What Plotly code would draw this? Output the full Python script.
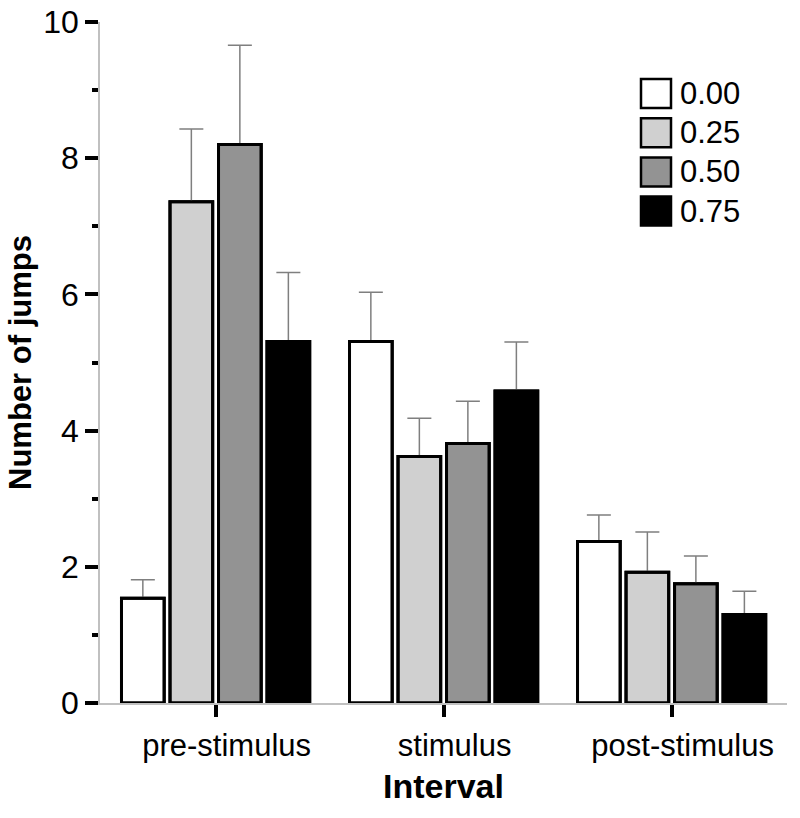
import plotly.graph_objects as go

# ---- data ----
intervals = ["pre-stimulus", "stimulus", "post-stimulus"]
levels = ["0.00", "0.25", "0.50", "0.75"]
means_000 = [1.54, 5.31, 2.37]
means_025 = [7.36, 3.62, 1.92]
means_050 = [8.20, 3.81, 1.75]
means_075 = [5.31, 4.58, 1.30]
err_000 = [0.27, 0.72, 0.39]
err_025 = [1.07, 0.56, 0.59]
err_050 = [1.46, 0.62, 0.41]
err_075 = [1.01, 0.72, 0.34]

colors = ["#ffffff", "#d0d0d0", "#939393", "#000000"]
series = [means_000, means_025, means_050, means_075]
errors = [err_000, err_025, err_050, err_075]

FONT = "Liberation Sans, Arial, sans-serif"

fig = go.Figure()
# filled bars with upward-only error bars
for i, (lvl, m, e, c) in enumerate(zip(levels, series, errors, colors)):
    fig.add_trace(go.Bar(
        x=intervals, y=m, name=lvl, offsetgroup=str(i),
        marker=dict(color=c, line=dict(color="#000000", width=3)),
        error_y=dict(type="data", array=e, arrayminus=[0] * len(e), symmetric=False,
                     color="#7f7f7f", thickness=1.5, width=12),
        showlegend=False,
    ))
# outline pass drawn on top so the bar edge stays solid black
for i, (lvl, m) in enumerate(zip(levels, series)):
    fig.add_trace(go.Bar(
        x=intervals, y=m, name=lvl, offsetgroup=str(i),
        marker=dict(color="rgba(0,0,0,0)", line=dict(color="#000000", width=3)),
        showlegend=False, hoverinfo="skip",
    ))

# figure geometry (page body margin removed below)
W, H = 800, 818
L, R, T, B = 100, 13, 22, 115
pw, ph = W - L - R, H - T - B

def px_x(x):
    return (x - L) / pw

def px_y(y):
    return (H - B - y) / ph

box_left, box_w, box_h, row0, row_step = 641, 30, 29, 79, 39.2
for i, (lvl, c) in enumerate(zip(levels, colors)):
    top = row0 + i * row_step
    fig.add_shape(type="rect", xref="paper", yref="paper",
                  x0=px_x(box_left), x1=px_x(box_left + box_w),
                  y0=px_y(top + box_h), y1=px_y(top),
                  fillcolor=c, line=dict(color="#000000", width=2.5))
    fig.add_annotation(xref="paper", yref="paper", x=px_x(678), y=px_y(top + box_h / 2),
                       text=lvl, showarrow=False, xanchor="left", yanchor="middle",
                       font=dict(family=FONT, size=31, color="#000000"))

fig.update_layout(
    width=W, height=H,
    margin=dict(l=L, r=R, t=T, b=B),
    paper_bgcolor="#ffffff", plot_bgcolor="#ffffff",
    barmode="group", bargap=0.149, bargroupgap=0.12,
    font=dict(family=FONT, color="#000000"),
)
fig.update_xaxes(
    range=[-0.507, 2.506], showgrid=False, zeroline=False, automargin=False,
    showline=True, linecolor="#c0c0c0", linewidth=1.5,
    ticks="outside", ticklen=12, tickwidth=4, tickcolor="#000000",
    tickfont=dict(family=FONT, size=31), ticklabelshift=11, ticklabelstandoff=2,
    ticklabeloverflow="allow",
    title=dict(text="<b>Interval</b>", font=dict(family=FONT, size=34), standoff=12),
)
fig.update_yaxes(
    range=[0, 10], showgrid=False, zeroline=False, automargin=False,
    showline=True, linecolor="#c0c0c0", linewidth=1.5,
    tickvals=[0, 2, 4, 6, 8, 10],
    ticks="outside", ticklen=13, tickwidth=3.5, tickcolor="#000000",
    minor=dict(dtick=1, ticks="outside", ticklen=6, tickwidth=3.5, tickcolor="#000000"),
    tickfont=dict(family=FONT, size=32), ticklabeloverflow="allow",
    title=dict(text="<b>Number of jumps</b>", font=dict(family=FONT, size=31), standoff=2),
)

fig.write_html("out.html", config={"displayModeBar": False},
               post_script="document.body.style.margin='0';document.body.style.overflow='hidden';")
